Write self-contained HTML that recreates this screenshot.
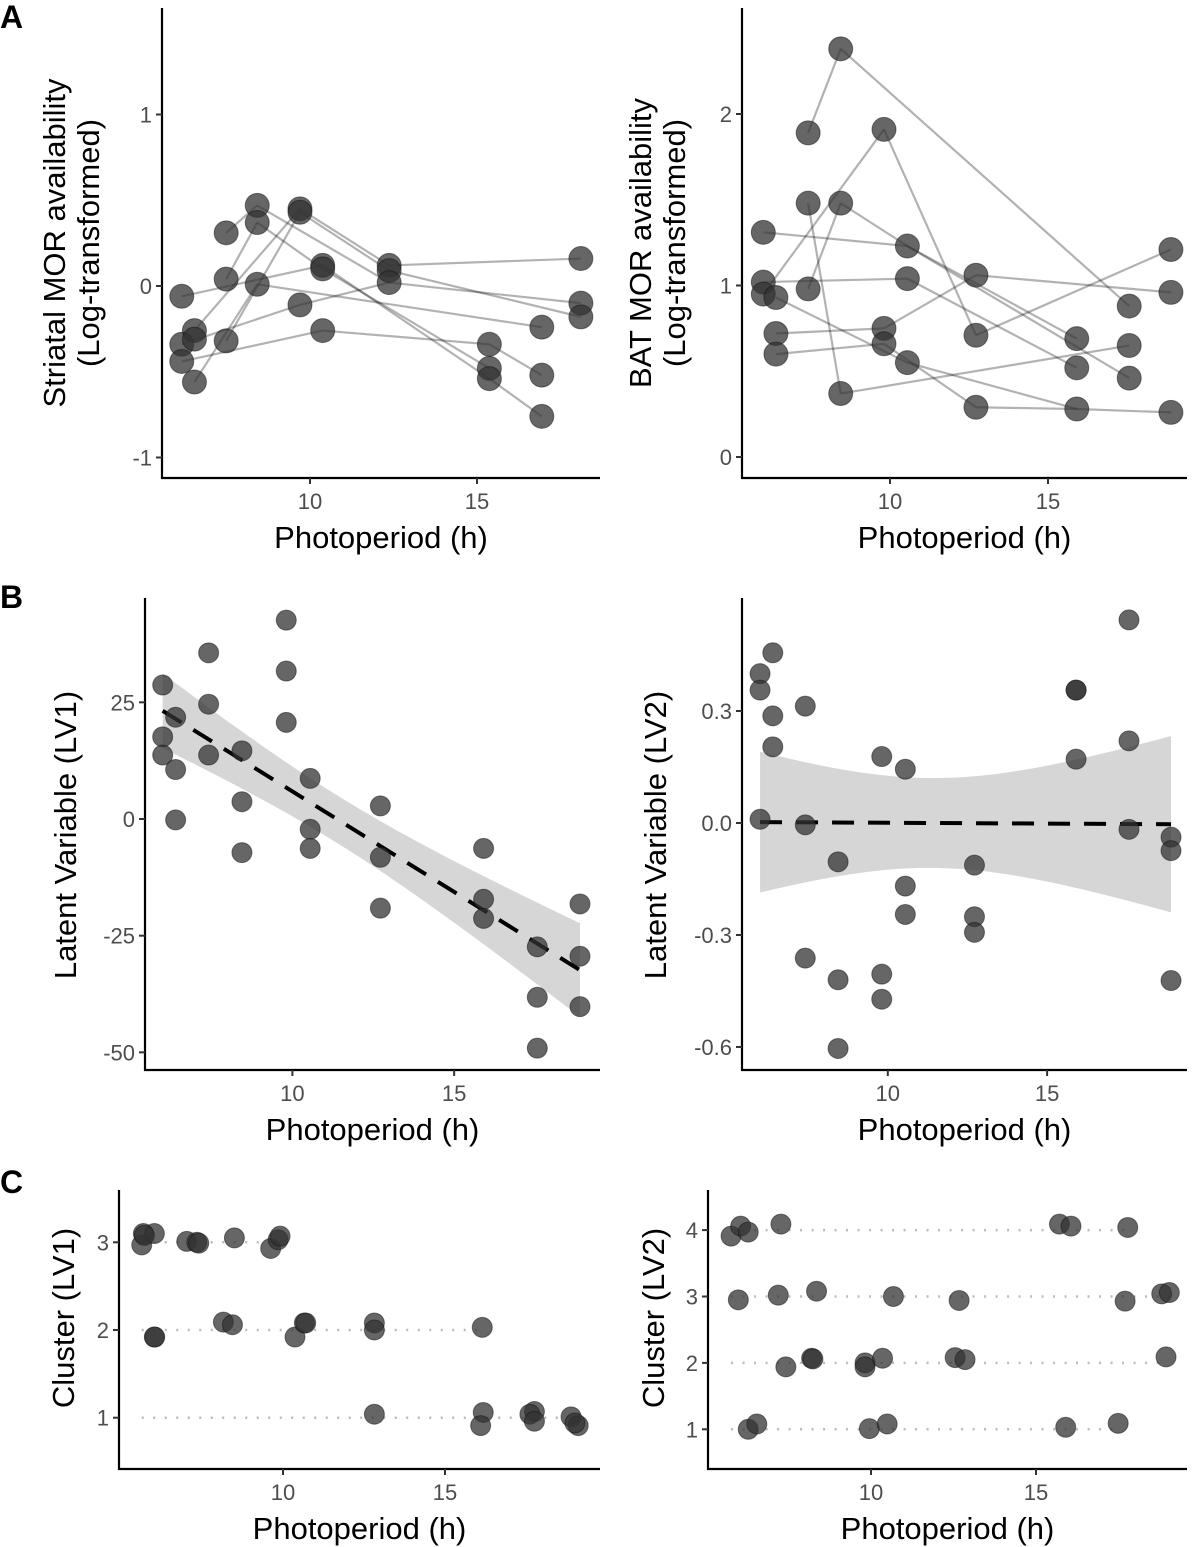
<!DOCTYPE html>
<html><head><meta charset="utf-8">
<style>
html,body{margin:0;padding:0;background:#fff;}
svg{display:block;font-family:"Liberation Sans",Arial,sans-serif;}
</style></head>
<body>
<svg id="fig" width="1200" height="1547" viewBox="0 0 1200 1547" xmlns="http://www.w3.org/2000/svg">
<text x="0" y="28" font-size="32" font-weight="bold">A</text>
<text x="0" y="608" font-size="32" font-weight="bold">B</text>
<text x="0" y="1193" font-size="32" font-weight="bold">C</text>
</svg>
<script>
// ---- Panel A left: striatal MOR ----
const aLx = [6.16,6.54,6.16,6.16,6.54,6.54,7.49,7.49,7.49,8.42,8.42,8.42,9.70,9.70,9.70,10.38,10.38,10.38,12.37,12.37,12.37,15.37,15.37,15.37,16.94,16.94,16.94,18.11,18.11,18.11];
const aLy = [-0.06,-0.26,-0.34,-0.44,-0.31,-0.56,0.31,0.04,-0.32,0.47,0.37,0.01,0.45,0.43,-0.11,0.12,0.10,-0.26,0.12,0.09,0.02,-0.34,-0.48,-0.54,-0.24,-0.52,-0.76,0.16,-0.10,-0.18];
const aLseg = [[0,15],[15,23],[23,26],[1,12],[12,18],[18,27],[8,13],[13,19],[19,29],[6,9],[9,20],[20,28],[5,11],[11,24],[7,10],[10,16],[16,22],[2,14],[14,20],[3,17],[17,21],[21,25]];
const aLyTicks = [1,0,-1];
// ---- Panel A right: BAT MOR ----
const aRx = [8.44,7.41,9.81,7.41,8.44,5.99,10.55,5.99,5.99,6.39,7.41,10.55,12.72,6.39,6.39,9.81,9.81,10.55,12.72,8.44,12.72,15.91,15.91,15.91,17.57,17.57,17.57,18.89,18.89,18.89];
const aRy = [2.38,1.89,1.91,1.48,1.48,1.31,1.23,1.02,0.95,0.93,0.98,1.04,1.06,0.72,0.60,0.75,0.66,0.55,0.71,0.37,0.29,0.69,0.52,0.28,0.88,0.65,0.46,1.21,0.96,0.26];
const aRseg = [[1,0],[0,24],[8,2],[2,18],[18,27],[3,19],[19,25],[10,4],[4,6],[6,21],[5,6],[6,26],[7,11],[11,22],[13,15],[15,12],[12,28],[14,16],[16,20],[20,23],[9,17],[17,23],[23,29]];
const aRyTicks = [2,1,0];
// ---- Panel B ----
const bx = [5.99,5.99,5.99,6.39,6.39,6.39,7.41,7.41,7.41,8.44,8.44,8.44,9.81,9.81,9.81,10.55,10.55,10.55,12.72,12.72,12.72,15.91,15.91,15.91,17.57,17.57,17.57,18.89,18.89,18.89];
const bLy = [28.7,17.6,13.7,21.8,10.6,-0.2,35.6,24.6,13.7,14.6,3.7,-7.2,42.6,31.7,20.7,8.7,-2.2,-6.3,2.8,-8.2,-19.1,-6.3,-17.2,-21.3,-27.4,-38.2,-49.1,-18.2,-29.4,-40.2];
const bRy = [0.40,0.356,0.01,0.456,0.287,0.204,0.313,-0.005,-0.362,-0.104,-0.42,-0.604,0.178,-0.405,-0.472,0.144,-0.169,-0.245,-0.113,-0.251,-0.293,0.356,0.356,0.171,0.544,0.22,-0.017,-0.038,-0.074,-0.422];
const bLyTicks = [25,0,-25,-50];
const bLyTickLabels = ["25","0","-25","-50"];
const bRyTicks = [0.3,0,-0.3,-0.6];
const bRyTickLabels = ["0.3","0.0","-0.3","-0.6"];
// ---- Panel C ----
const cLx = [5.64,5.69,6.03,5.72,7.03,7.34,7.40,8.50,9.62,9.85,9.91,6.03,6.04,8.16,8.44,10.37,10.66,10.70,12.82,12.82,16.15,12.82,16.18,16.10,17.76,17.62,17.76,18.89,19.11,19.01];
const cLy = [2.97,3.10,3.10,3.08,3.01,3.00,2.99,3.05,2.93,3.03,3.07,1.92,1.92,2.09,2.06,1.92,2.08,2.08,2.08,2.00,2.03,1.04,1.06,0.91,1.07,1.04,0.96,1.01,0.91,0.94];
const cLyTicks = [3,2,1];
const cRx = [5.76,6.05,6.28,7.27,15.71,16.06,17.78,5.98,7.19,8.35,10.68,12.67,17.70,18.81,19.04,7.42,8.20,8.24,9.82,9.82,10.35,12.55,12.85,18.94,6.28,6.54,9.95,10.49,15.90,17.49];
const cRy = [3.91,4.06,3.97,4.09,4.09,4.06,4.04,2.95,3.02,3.08,3.00,2.94,2.93,3.04,3.06,1.94,2.07,2.06,2.00,1.94,2.07,2.08,2.05,2.09,1.00,1.08,1.01,1.08,1.03,1.09];
const cRyTicks = [4,3,2,1];
const xTicks = [10,15];

const NS = "http://www.w3.org/2000/svg";
const fig = document.getElementById('fig');
function mk(tag, parent){ const e=document.createElementNS(NS,tag); parent.appendChild(e); return e; }
function attrs(e,o){ for(const k in o) e.setAttribute(k,o[k]); return e; }

function panel(p){
  const g = mk('g', fig);
  
  
  const xs = v => p.x10 + (v-10)*p.xk;
  const ys = v => p.yref + (v-p.vref)*p.yk;
  p.xs = xs; p.ys = ys;
  const ya = attrs(mk('line', g), {x1:p.left,y1:p.top,x2:p.left,y2:p.bottom+1,stroke:'#000','stroke-width':2.2});
  
  
  const xa = attrs(mk('line', g), {x1:p.left-1,y1:p.bottom,x2:p.right,y2:p.bottom,stroke:'#000','stroke-width':2.2});
  
  
  xTicks.forEach(t=>{
    const tk = attrs(mk('line', g), {x1:xs(t),y1:p.bottom,x2:xs(t),y2:p.bottom+6,stroke:'#333','stroke-width':2});
    
    
    const tl = attrs(mk('text', g), {x:xs(t),y:p.bottom+31,'text-anchor':'middle','font-size':22,fill:'#4d4d4d'});
    tl.textContent = String(t);
    
    
  });
  p.yTicks.forEach((t,i)=>{
    const tk = attrs(mk('line', g), {x1:p.left-6,y1:ys(t),x2:p.left,y2:ys(t),stroke:'#333','stroke-width':2});
    
    
    const tl = attrs(mk('text', g), {x:p.left-10,y:ys(t)+8,'text-anchor':'end','font-size':22,fill:'#4d4d4d'});
    tl.textContent = p.yLabels ? p.yLabels[i] : String(t);
    
    
  });
  const xt = attrs(mk('text', g), {x:(p.left+p.right)/2,y:p.bottom+70,'text-anchor':'middle','font-size':31,fill:'#000'});
  xt.textContent = 'Photoperiod (h)';
  
  
  p.yTitle.forEach((line,i)=>{
    const n = p.yTitle.length;
    const tx = p.ytx + (i-(n-1)/2)*34;
    const yt = attrs(mk('text', g), {x:tx,y:p.yty,'text-anchor':'middle','font-size':31,fill:'#000',transform:`rotate(-90 ${tx} ${p.yty})`});
    yt.textContent = line;
    
    
  });
  return g;
}

function points(g,p,X,Y,r){
  X.forEach((x,i)=>{
    const c = attrs(mk('circle', g), {cx:p.xs(x),cy:p.ys(Y[i]),r:r,fill:'#333','fill-opacity':0.75,stroke:'#111','stroke-opacity':0.5,'stroke-width':1});
    
    
  });
}
function segs(g,p,X,Y,S){
  S.forEach(s=>{
    const l = attrs(mk('line', g), {x1:p.xs(X[s[0]]),y1:p.ys(Y[s[0]]),x2:p.xs(X[s[1]]),y2:p.ys(Y[s[1]]),stroke:'#000','stroke-opacity':0.3,'stroke-width':2.2});
    
    
  });
}
function fit(g,p,X,Y){
  const n=X.length, mx=X.reduce((a,b)=>a+b)/n, my=Y.reduce((a,b)=>a+b)/n;
  let sxx=0,sxy=0; X.forEach((x,i)=>{sxx+=(x-mx)**2; sxy+=(x-mx)*(Y[i]-my);});
  const b=sxy/sxx, a=my-b*mx;
  let sse=0; X.forEach((x,i)=>{sse+=(Y[i]-a-b*x)**2;});
  const s=Math.sqrt(sse/(n-2)), tq=2.048;
  const x0=Math.min(...X), x1=Math.max(...X);
  const up=[], lo=[];
  for(let k=0;k<=60;k++){
    const x=x0+(x1-x0)*k/60, yh=a+b*x, se=s*Math.sqrt(1/n+(x-mx)**2/sxx);
    up.push(p.xs(x)+','+p.ys(yh+tq*se)); lo.unshift(p.xs(x)+','+p.ys(yh-tq*se));
  }
  const band = attrs(mk('polygon', g), {points:up.concat(lo).join(' '),fill:'#999','fill-opacity':0.4});
  
  
  const ln = attrs(mk('line', g), {x1:p.xs(x0),y1:p.ys(a+b*x0),x2:p.xs(x1),y2:p.ys(a+b*x1),stroke:'#000','stroke-width':4,'stroke-dasharray':'22 14'});
  
  
}
function guides(g,p,X,Y,clusters){
  const xmin=Math.min(...X);
  clusters.forEach(c=>{
    const xm=Math.max(...X.filter((x,i)=>Math.round(Y[i])===c));
    const l = attrs(mk('line', g), {x1:p.xs(xmin),y1:p.ys(c),x2:p.xs(xm),y2:p.ys(c),stroke:'#bbb','stroke-width':2.5,'stroke-dasharray':'2 9.5'});
    
    
  });
}

const pAL = {name:'panel-a-striatal',left:162,right:600,top:8,bottom:478,x10:310,xk:33.4,yref:286,vref:0,yk:-171.5,yTicks:aLyTicks,yTitle:['Striatal MOR availability','(Log-transformed)'],ytx:82,yty:243};
let g = panel(pAL); segs(g,pAL,aLx,aLy,aLseg); points(g,pAL,aLx,aLy,12);
const pAR = {name:'panel-a-bat',left:742,right:1187,top:8,bottom:478,x10:890,xk:31.6,yref:457,vref:0,yk:-171.5,yTitle:['BAT MOR availability','(Log-transformed)'],yTicks:aRyTicks,ytx:668,yty:243};
g = panel(pAR); segs(g,pAR,aRx,aRy,aRseg); points(g,pAR,aRx,aRy,12);
const pBL = {name:'panel-b-lv1',left:145,right:600,top:598,bottom:1070,x10:292.4,xk:32.35,yref:819,vref:0,yk:-4.667,yTicks:bLyTicks,yLabels:bLyTickLabels,yTitle:['Latent Variable (LV1)'],ytx:76,yty:835};
g = panel(pBL); fit(g,pBL,bx,bLy); points(g,pBL,bx,bLy,10);
const pBR = {name:'panel-b-lv2',left:742,right:1187,top:598,bottom:1070,x10:887.8,xk:31.86,yref:823,vref:0,yk:-373.3,yTicks:bRyTicks,yLabels:bRyTickLabels,yTitle:['Latent Variable (LV2)'],ytx:666,yty:835};
g = panel(pBR); fit(g,pBR,bx,bRy); points(g,pBR,bx,bRy,10);
const pCL = {name:'panel-c-lv1',left:119,right:600,top:1190,bottom:1469,x10:283,xk:32.4,yref:1417.7,vref:1,yk:-87.7,yTicks:cLyTicks,yTitle:['Cluster (LV1)'],ytx:74,yty:1318};
g = panel(pCL); guides(g,pCL,cLx,cLy,cLyTicks); points(g,pCL,cLx,cLy,10);
const pCR = {name:'panel-c-lv2',left:708,right:1187,top:1190,bottom:1469,x10:871,xk:33,yref:1429.3,vref:1,yk:-66.4,yTicks:cRyTicks,yTitle:['Cluster (LV2)'],ytx:664,yty:1318};
g = panel(pCR); guides(g,pCR,cRx,cRy,cRyTicks); points(g,pCR,cRx,cRy,10);
</script>
</body></html>
